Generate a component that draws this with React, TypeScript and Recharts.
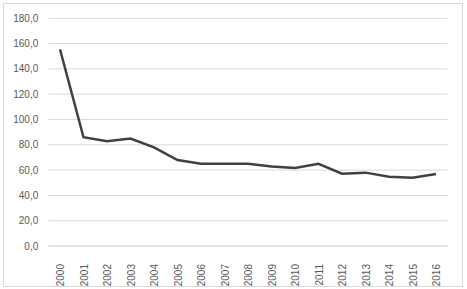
import React from "react";
import { LineChart, Line, XAxis, YAxis, CartesianGrid } from "recharts";

const years = ["2000","2001","2002","2003","2004","2005","2006","2007","2008","2009","2010","2011","2012","2013","2014","2015","2016"];
const values = [155.5, 86, 82.8, 85, 78, 68, 65, 65, 65, 62.8, 61.7, 65, 57.2, 58, 54.8, 54, 57];
const yTicks = [0, 20, 40, 60, 80, 100, 120, 140, 160, 180];

const data = years.map((y, i) => ({ year: y, value: values[i] }));

const FONT = "'Liberation Sans', Arial, sans-serif";

const XTick = (props: any) => {
  const { x, y, payload } = props;
  return (
    <text
      x={0}
      y={0}
      transform={`translate(${x + 4}, ${y + 10}) rotate(-90)`}
      textAnchor="end"
      fill="#595959"
      fontSize={10}
      fontFamily={FONT}
    >
      {payload.value}
    </text>
  );
};

const YTick = (props: any) => {
  const { x, y, payload } = props;
  return (
    <text
      x={x}
      y={y + 3.5}
      textAnchor="end"
      fill="#595959"
      fontSize={10}
      fontFamily={FONT}
    >
      {Number(payload.value).toFixed(1).replace(".", ",")}
    </text>
  );
};

export default function App() {
  return (
    <div style={{ position: "absolute", left: 0, top: 0, width: 467, height: 289, background: "#fff" }}>
      <div
        style={{
          position: "absolute",
          left: 3,
          top: 3,
          width: 458,
          height: 282,
          border: "1px solid #d9d9d9",
        }}
      />
      <div style={{ position: "absolute", left: 0, top: 0 }}>
        <LineChart
          width={467}
          height={289}
          data={data}
          margin={{ top: 18.3, right: 19.25, left: 0, bottom: 0 }}
        >
          <CartesianGrid vertical={false} stroke="#d9d9d9" strokeWidth={1} />
          <XAxis
            dataKey="year"
            scale="band"
            axisLine={{ stroke: "#d9d9d9" }}
            tickLine={false}
            tick={<XTick />}
            height={43}
            interval={0}
          />
          <YAxis
            domain={[0, 180]}
            ticks={yTicks}
            axisLine={false}
            tickLine={false}
            tickSize={0}
            tickMargin={10}
            width={48.25}
            tick={<YTick />}
            interval={0}
          />
          <Line
            type="linear"
            dataKey="value"
            stroke="#404040"
            strokeWidth={2.5}
            dot={false}
            isAnimationActive={false}
          />
        </LineChart>
      </div>
    </div>
  );
}
